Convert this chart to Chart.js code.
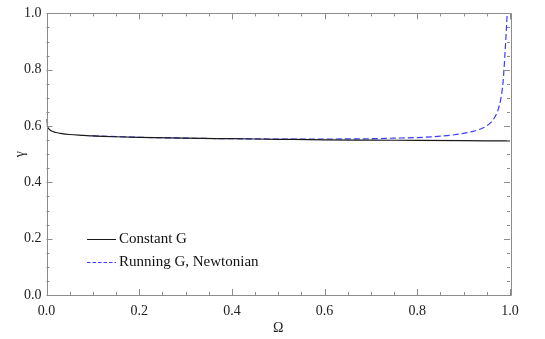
<!DOCTYPE html>
<html>
<head>
<meta charset="utf-8">
<script src="https://cdn.jsdelivr.net/npm/chart.js@4/dist/chart.umd.min.js"></script>
<style>
html,body{margin:0;padding:0;background:#fff;}
#wrap{width:545px;height:339px;position:relative;}
</style>
</head>
<body>
<div id="wrap"><canvas id="c" width="545" height="339"></canvas></div>
<script>
// Data
const omegaConstant = [0, 0.002, 0.005, 0.01, 0.02, 0.03, 0.05, 0.08, 0.1, 0.15, 0.2, 0.3, 0.4, 0.5, 0.6, 0.7, 0.8, 0.9, 1.0];
const gammaConstant = [0.625, 0.600, 0.590, 0.583, 0.577, 0.574, 0.570, 0.567, 0.565, 0.562, 0.560, 0.557, 0.555, 0.553, 0.551, 0.550, 0.549, 0.548, 0.547];

const omegaRunning = [0.1, 0.2, 0.3, 0.4, 0.5, 0.6, 0.7, 0.75, 0.8, 0.85, 0.88, 0.9, 0.92, 0.94, 0.95, 0.96, 0.97, 0.975, 0.98, 0.985, 0.987, 0.99, 0.992, 0.994];
const gammaRunning = [0.565, 0.560, 0.557, 0.555, 0.554, 0.554, 0.555, 0.557, 0.559, 0.564, 0.569, 0.574, 0.581, 0.592, 0.601, 0.615, 0.640, 0.662, 0.695, 0.755, 0.80, 0.88, 0.94, 1.0];

const seriesNames = ["Constant G", "Running G, Newtonian"];
const xTickLabels = ["0.0", "0.2", "0.4", "0.6", "0.8", "1.0"];
const yTickLabels = ["0.0", "0.2", "0.4", "0.6", "0.8", "1.0"];
const xTitle = "Ω";
const yTitle = "γ";

const toPoints = (xs, ys) => xs.map((x, i) => ({x: x, y: ys[i]}));
const isMajor = v => Math.abs(v * 5 - Math.round(v * 5)) < 1e-6;
const labelFor = (list, v) => isMajor(v) ? list[Math.round(v * 5)] : '';

const FONT = "'Liberation Serif', 'DejaVu Serif', serif";
const FRAME = '#8c8c8c';

const framePlugin = {
  id: 'frameTicks',
  afterDatasetsDraw(chart) {
    const ctx = chart.ctx;
    const a = chart.chartArea;
    const xs = chart.scales.x, ys = chart.scales.y;
    ctx.save();
    ctx.strokeStyle = FRAME;
    ctx.lineWidth = 1;
    ctx.beginPath();
    ctx.rect(Math.round(a.left) + 0.5, Math.round(a.top) + 0.5, Math.round(a.right - a.left), Math.round(a.bottom - a.top));
    ctx.stroke();
    ctx.beginPath();
    xs.ticks.forEach(t => {
      const px = Math.round(xs.getPixelForValue(t.value)) + 0.5;
      const len = isMajor(t.value) ? 6 : 3;
      ctx.moveTo(px, a.bottom); ctx.lineTo(px, a.bottom - len);
      ctx.moveTo(px, a.top); ctx.lineTo(px, a.top + len);
    });
    ys.ticks.forEach(t => {
      const py = Math.round(ys.getPixelForValue(t.value)) + 0.5;
      const len = isMajor(t.value) ? 6 : 3;
      ctx.moveTo(a.left, py); ctx.lineTo(a.left + len, py);
      ctx.moveTo(a.right, py); ctx.lineTo(a.right - len, py);
    });
    ctx.stroke();
    ctx.restore();
  },
  afterDraw(chart) {
    const ctx = chart.ctx;
    const ds = chart.data.datasets;
    ctx.save();
    ctx.font = "15px " + FONT;
    ctx.textBaseline = 'middle';
    ctx.fillStyle = '#111';
    const rows = [239, 262];
    ds.forEach((d, i) => {
      const y = rows[i] + 0.5;
      ctx.strokeStyle = d.borderColor;
      ctx.lineWidth = 1;
      ctx.setLineDash(i === 1 ? [3.5, 2] : []);
      ctx.beginPath();
      ctx.moveTo(87, y); ctx.lineTo(116, y);
      ctx.stroke();
      ctx.setLineDash([]);
      ctx.fillText(d.label, 119, rows[i]);
    });
    ctx.restore();
  }
};

new Chart(document.getElementById('c'), {
  type: 'line',
  data: {
    datasets: [
      {
        label: seriesNames[0],
        data: toPoints(omegaConstant, gammaConstant),
        borderColor: '#1a1a1a',
        borderWidth: 1.2,
        pointRadius: 0,
        fill: false,
        cubicInterpolationMode: 'monotone'
      },
      {
        label: seriesNames[1],
        data: toPoints(omegaRunning, gammaRunning),
        borderColor: '#3a3aff',
        borderWidth: 1.2,
        borderDash: [6, 3],
        pointRadius: 0,
        fill: false,
        cubicInterpolationMode: 'monotone'
      }
    ]
  },
  options: {
    responsive: false,
    animation: false,
    events: [],
    layout: {padding: {left: 0, top: 10, right: 35, bottom: 0}},
    plugins: {legend: {display: false}, tooltip: {enabled: false}},
    scales: {
      x: {
        type: 'linear', min: 0, max: 1,
        grid: {display: false, drawTicks: false},
        border: {display: false},
        afterFit: s => { s.height = 44; },
        ticks: {
          stepSize: 0.05, autoSkip: false, maxRotation: 0, padding: 8,
          color: '#222', font: {family: FONT, size: 14},
          callback: v => labelFor(xTickLabels, v)
        },
        title: {display: true, text: xTitle, color: '#222', font: {family: FONT, size: 14}, padding: {top: 0, bottom: 2}}
      },
      y: {
        type: 'linear', min: 0, max: 1,
        grid: {display: false, drawTicks: false},
        border: {display: false},
        afterFit: s => { s.width = 46.5; },
        ticks: {
          stepSize: 0.05, autoSkip: false, padding: 5,
          color: '#222', font: {family: FONT, size: 14},
          callback: v => labelFor(yTickLabels, v)
        },
        title: {display: true, text: yTitle, color: '#222', font: {family: FONT, size: 14}, padding: {top: 12, bottom: 0}}
      }
    }
  },
  plugins: [framePlugin]
});
</script>
</body>
</html>
